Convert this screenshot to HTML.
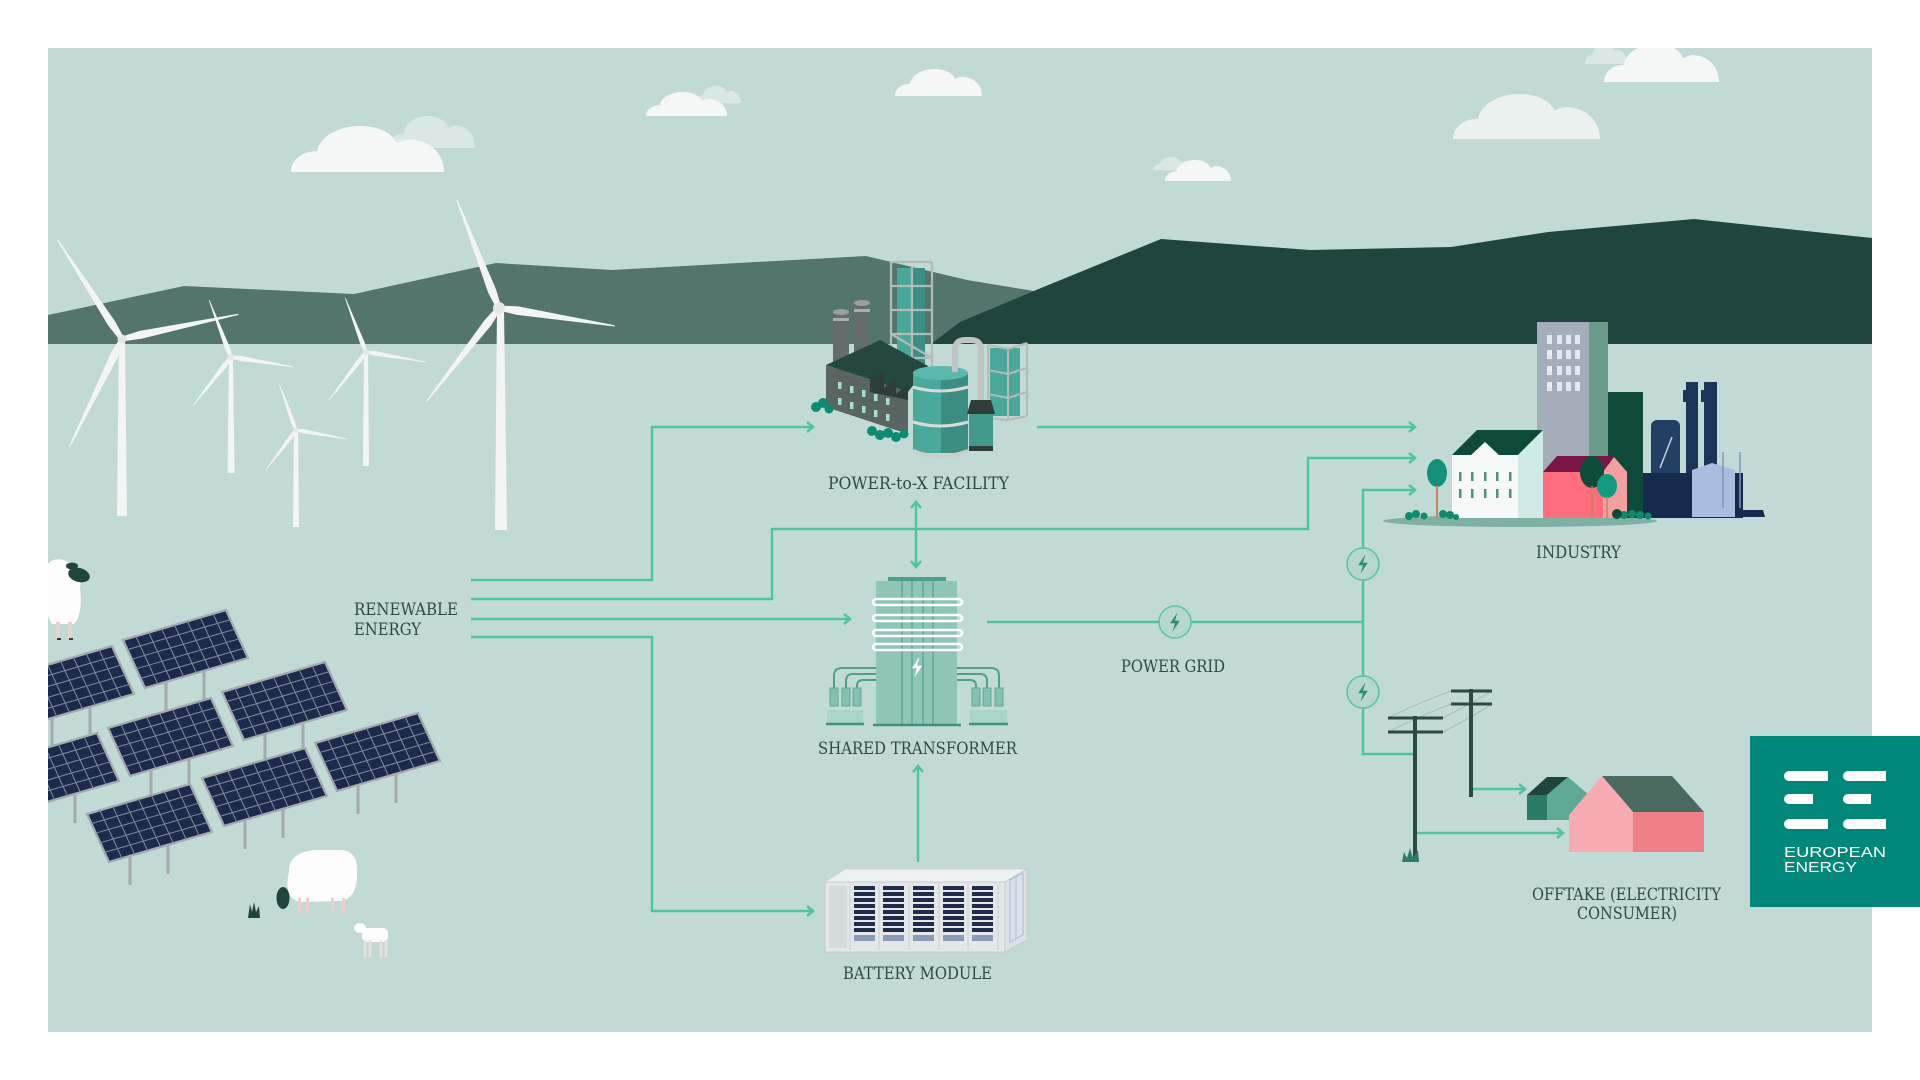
<!DOCTYPE html>
<html><head><meta charset="utf-8"><style>
html,body{margin:0;padding:0;background:#fff;width:1920px;height:1080px;overflow:hidden}
svg{display:block}
.lbl{font-family:"DejaVu Serif Condensed","DejaVu Serif","Liberation Serif",serif;font-size:17px;fill:#2e4a44}
.cn{fill:none;stroke:#4fc3a2;stroke-width:2.5}
</style></head><body>
<svg width="1920" height="1080" viewBox="0 0 1920 1080" xmlns="http://www.w3.org/2000/svg">
<defs>
<clipPath id="pc"><rect x="48" y="48" width="1824" height="984"/></clipPath>
<path id="cl" d="M0,40 C0,30 7,22 17,22 C19,9 31,0 45,0 C58,0 67,7 69,15 C74,11 80,11 84,13 C93,16 100,26 100,40 Z"/>
<path id="bl" d="M-2.5,0 L-4.5,-16 L-0.6,-100 L0.6,-100 L4,-16 L2.5,0 Z"/>
<g id="pv">
<rect x="0" y="0" width="100" height="50" fill="#1c2a4c" stroke="#a6abb0" stroke-width="2.2"/>
<path d="M12.5,0V50M25,0V50M37.5,0V50M50,0V50M62.5,0V50M75,0V50M87.5,0V50M0,10H100M0,20H100M0,30H100M0,40H100" stroke="#7f8a98" stroke-width="1"/>
</g>
<path id="bolt" d="M2,-8 L-4,1 L0,1 L-2,8 L4,-1 L0,-1 Z"/>
</defs>

<rect x="48" y="48" width="1824" height="984" fill="#c2dad5"/>

<g clip-path="url(#pc)">
<!-- clouds -->
<g fill="#d9e8e4">
<use href="#cl" transform="translate(389,116) scale(0.86,0.8)"/>
<use href="#cl" transform="translate(695,86) scale(0.46,0.43)"/>
<use href="#cl" transform="translate(1153,157) scale(0.4,0.33)"/>
<use href="#cl" transform="translate(1585,44) scale(0.42,0.5)"/>
</g>
<g fill="#f4f7f6">
<use href="#cl" transform="translate(291,126) scale(1.53,1.15)"/>
<use href="#cl" transform="translate(646,92) scale(0.81,0.6)"/>
<use href="#cl" transform="translate(895,69) scale(0.87,0.675)"/>
<use href="#cl" transform="translate(1165,160) scale(0.66,0.525)"/>
<use href="#cl" transform="translate(1453,94) scale(1.47,1.125)" fill="#eaf1ee"/>
<use href="#cl" transform="translate(1604,44) scale(1.15,0.95)"/>
</g>

<!-- mountains -->
<path d="M48,315 L184,286 L354,294 L496,263 L612,270 L866,256 L967,280 L1040,292 L1040,344 L48,344 Z" fill="#54756d"/>
<path d="M931,344 L960,322 L1041,288 L1161,239 L1310,250 L1451,247 L1548,232 L1694,219 L1872,238 L1872,344 Z" fill="#1f453e"/>

<!-- windmills -->
<g fill="#f2f5f4">
<polygon points="119,339 125,339 127,516 117,516"/>
<polygon points="229,357 233,357 234.5,473 227.5,473"/>
<polygon points="294,430 298,430 299,527 293,527"/>
<polygon points="364,352 368,352 369,466 363,466"/>
<polygon points="497,308 504,308 507,530 495,530"/>
<use href="#bl" transform="translate(122,339) rotate(-33) scale(0.95,1.18)"/>
<use href="#bl" transform="translate(122,339) rotate(78) scale(0.95,1.19)"/>
<use href="#bl" transform="translate(122,339) rotate(206) scale(0.95,1.2)"/>
<use href="#bl" transform="translate(231,357) rotate(-21) scale(0.6,0.61)"/>
<use href="#bl" transform="translate(231,357) rotate(99) scale(0.6,0.63)"/>
<use href="#bl" transform="translate(231,357) rotate(218) scale(0.6,0.62)"/>
<use href="#bl" transform="translate(296,430) rotate(-20) scale(0.5,0.49)"/>
<use href="#bl" transform="translate(296,430) rotate(100) scale(0.5,0.52)"/>
<use href="#bl" transform="translate(296,430) rotate(217) scale(0.5,0.51)"/>
<use href="#bl" transform="translate(366,352) rotate(-21) scale(0.55,0.58)"/>
<use href="#bl" transform="translate(366,352) rotate(99.5) scale(0.55,0.61)"/>
<use href="#bl" transform="translate(366,352) rotate(217.6) scale(0.55,0.61)"/>
<use href="#bl" transform="translate(499,308) rotate(-21.3) scale(1,1.16)"/>
<use href="#bl" transform="translate(499,308) rotate(98.8) scale(1,1.17)"/>
<use href="#bl" transform="translate(499,308) rotate(217.8) scale(1,1.18)"/>
</g>
<g fill="#e4e9e8">
<circle cx="122" cy="339" r="4.5"/><circle cx="231" cy="357" r="3"/><circle cx="296" cy="430" r="2.5"/><circle cx="366" cy="352" r="3"/><circle cx="499" cy="308" r="6"/>
</g>

<!-- top-left sheep -->
<path d="M44,572 C46,560 58,556 68,562 C80,562 82,574 80,588 C82,606 80,618 74,624 L52,624 C46,616 43,596 44,572 Z" fill="#fdfdfd"/>
<ellipse cx="79" cy="575" rx="11" ry="7" fill="#1f453e" transform="rotate(15 79 575)"/>
<ellipse cx="72" cy="566" rx="6" ry="3.5" fill="#1f453e"/>
<rect x="56" y="622" width="4" height="17" fill="#ecd0d0"/><rect x="68" y="622" width="4" height="17" fill="#ecd0d0"/>
<rect x="57" y="638" width="4" height="2" fill="#1f453e"/><rect x="69" y="638" width="4" height="2" fill="#1f453e"/>

<!-- solar legs + panels -->
<g stroke="#a3a9ac" stroke-width="3">
<path d="M166,680V711M204,670V700"/>
<path d="M52,716V747M90,706V736"/>
<path d="M265,732V763M303,722V752"/>
<path d="M151,768V799M189,758V788"/>
<path d="M37,803V834M75,793V823"/>
<path d="M358,783V814M396,773V803"/>
<path d="M245,818V849M283,808V838"/>
<path d="M130,854V885M168,844V874"/>
</g>
<use href="#pv" transform="matrix(1.03,-0.30,0.44,0.96,123,640)"/>
<use href="#pv" transform="matrix(1.03,-0.30,0.44,0.96,9,676)"/>
<use href="#pv" transform="matrix(1.03,-0.30,0.44,0.96,222,692)"/>
<use href="#pv" transform="matrix(1.03,-0.30,0.44,0.96,108,728)"/>
<use href="#pv" transform="matrix(1.03,-0.30,0.44,0.96,-6,763)"/>
<use href="#pv" transform="matrix(1.03,-0.30,0.44,0.96,315,743)"/>
<use href="#pv" transform="matrix(1.03,-0.30,0.44,0.96,202,778)"/>
<use href="#pv" transform="matrix(1.03,-0.30,0.44,0.96,87,814)"/>

<!-- bottom sheep -->
<path d="M289,872 C288,856 303,850 318,850 L340,850 C353,850 358,860 357,872 C358,890 351,900 340,901 L300,902 C289,900 285,888 289,872 Z" fill="#fdfdfd"/>
<rect x="298" y="898" width="3" height="15" fill="#ecd0d0"/><rect x="306" y="898" width="3" height="15" fill="#ecd0d0"/>
<rect x="331" y="898" width="3" height="15" fill="#ecd0d0"/><rect x="342" y="898" width="3" height="15" fill="#ecd0d0"/>
<ellipse cx="283" cy="898" rx="6.5" ry="11" fill="#1f453e"/>
<path d="M248,918 L250,904 L252,912 L254,902 L256,912 L259,906 L260,918 Z" fill="#1f453e"/>
<ellipse cx="360" cy="928" rx="6" ry="5" fill="#fdfdfd"/>
<rect x="362" y="928" width="26" height="14" rx="5" fill="#fdfdfd"/>
<path d="M365,940V957M370,940V957M381,940V957M386,940V957" stroke="#f0dede" stroke-width="2.5"/>

<!-- connectors -->
<path class="cn" d="M471,580 H652 V427 H813"/>
<path class="cn" d="M471,599 H772 V529 H1308 V458 H1415"/>
<path class="cn" d="M471,619 H850"/>
<path class="cn" d="M471,637 H652 V911 H813"/>
<path class="cn" d="M1037,427 H1415"/>
<path class="cn" d="M916,502 V567"/>
<path class="cn" d="M918,862 V766"/>
<path class="cn" d="M987,622 H1363"/>
<path class="cn" d="M1415,490 H1363 V754 H1413"/>
<path class="cn" d="M1471,789 H1525"/>
<path class="cn" d="M1415,833 H1563"/>
<g class="cn">
<polyline points="807,422 813,427 807,432"/>
<polyline points="1409,453 1415,458 1409,463"/>
<polyline points="844,614 850,619 844,624"/>
<polyline points="807,906 813,911 807,916"/>
<polyline points="1409,422 1415,427 1409,432"/>
<polyline points="1409,485 1415,490 1409,495"/>
<polyline points="1519,784 1525,789 1519,794"/>
<polyline points="1557,828 1563,833 1557,838"/>
<polyline points="911,508 916,502 921,508"/>
<polyline points="911,561 916,567 921,561"/>
<polyline points="913,772 918,766 923,772"/>
</g>
<g>
<circle cx="1175" cy="622" r="16" fill="#b6d6ce" stroke="#5cc4a6" stroke-width="1.5"/>
<circle cx="1363" cy="564" r="16" fill="#b6d6ce" stroke="#5cc4a6" stroke-width="1.5"/>
<circle cx="1363" cy="692" r="16" fill="#b6d6ce" stroke="#5cc4a6" stroke-width="1.5"/>
<use href="#bolt" transform="translate(1175,622) scale(1.2)" fill="#2b8c78"/>
<use href="#bolt" transform="translate(1363,564) scale(1.2)" fill="#2b8c78"/>
<use href="#bolt" transform="translate(1363,692) scale(1.2)" fill="#2b8c78"/>
</g>

<!-- Power-to-X facility -->
<g>
<rect x="833" y="312" width="16" height="62" fill="#646d6b"/><ellipse cx="841" cy="312" rx="8" ry="3" fill="#9aa09f"/>
<rect x="833" y="318" width="16" height="3" fill="#a9afae"/>
<rect x="854" y="303" width="16" height="62" fill="#646d6b"/><ellipse cx="862" cy="303" rx="8" ry="3" fill="#9aa09f"/>
<rect x="854" y="309" width="16" height="3" fill="#a9afae"/>
<rect x="897" y="268" width="28" height="98" fill="#4aa89a"/>
<rect x="911" y="268" width="14" height="98" fill="#3b8e83"/>
<g stroke="#b4b9b9" stroke-width="2.2" fill="none">
<path d="M891,262V370M912,266V372M932,262V368M891,262H932M891,286H932M891,310H932M891,334H932M891,358H932M891,334L932,358"/>
</g>
<polygon points="826,365 880,340 928,366 908,392" fill="#24483f"/>
<polygon points="826,365 908,392 908,434 826,407" fill="#5a6461"/>
<polygon points="870,380 884,370 884,388 896,378 896,394 908,384 908,400 870,392" fill="#2f3d3a"/>
<g fill="#a7dcd2">
<rect x="838" y="382" width="3.5" height="7"/><rect x="850" y="386" width="3.5" height="7"/><rect x="862" y="390" width="3.5" height="7"/><rect x="874" y="394" width="3.5" height="7"/><rect x="886" y="398" width="3.5" height="7"/>
<rect x="838" y="398" width="3.5" height="7"/><rect x="850" y="402" width="3.5" height="7"/><rect x="862" y="406" width="3.5" height="7"/><rect x="874" y="410" width="3.5" height="7"/><rect x="886" y="414" width="3.5" height="7"/>
</g>
<rect x="990" y="348" width="30" height="68" fill="#4aa89a"/>
<g stroke="#b4b9b9" stroke-width="2" fill="none">
<path d="M988,345V418M1008,349V420M1027,343V416M988,345L1008,349L1027,343M988,370L1008,374L1027,368M988,394L1008,398L1027,392M988,418L1008,420L1027,416"/>
</g>
<rect x="913" y="373" width="55" height="80" fill="#4ba99b"/>
<rect x="941" y="373" width="27" height="80" fill="#3c8d82"/>
<ellipse cx="940.5" cy="373" rx="27.5" ry="7" fill="#5cb8aa"/>
<path d="M913,387 Q940,395 968,387 M913,422 Q940,430 968,422" stroke="#d6dcdb" stroke-width="3" fill="none"/>
<path d="M913,451 Q940,462 968,451" stroke="#c9cfce" stroke-width="4" fill="none"/>
<path d="M955,372 V350 Q955,340 965,340 H971 Q981,340 981,350 V400" stroke="#bfc4c4" stroke-width="6" fill="none"/>
<polygon points="971,400 991,400 995,414 967,414" fill="#2e3d3a"/>
<rect x="969" y="414" width="24" height="36" fill="#3f9a8c"/>
<rect x="969" y="446" width="24" height="5" fill="#2e3d3a"/>
<g fill="#0f8a72">
<circle cx="816" cy="407" r="5"/><circle cx="823" cy="403" r="5"/><circle cx="829" cy="409" r="4.5"/>
<circle cx="872" cy="431" r="5"/><circle cx="880" cy="435" r="5"/><circle cx="888" cy="433" r="5"/><circle cx="896" cy="437" r="5"/><circle cx="904" cy="434" r="4.5"/>
</g>
</g>

<!-- Transformer -->
<g>
<rect x="888" y="577" width="58" height="4" fill="#4a9e8a"/>
<rect x="876" y="581" width="81" height="144" fill="#8fc5b6"/>
<path d="M902,581V725M912,581V725M923,581V725M933,581V725" stroke="#5ea896" stroke-width="1.5"/>
<g fill="none" stroke="#ffffff" stroke-width="2.4">
<rect x="873" y="599" width="89" height="6" rx="3"/>
<rect x="873" y="615" width="89" height="6" rx="3"/>
<rect x="873" y="630" width="89" height="6" rx="3"/>
<rect x="873" y="644" width="89" height="6" rx="3"/>
</g>
<use href="#bolt" transform="translate(917,667) scale(1.3)" fill="#ffffff"/>
<g fill="none" stroke="#4f9f8b" stroke-width="2">
<path d="M876,668 H842 Q834,668 834,676 V688"/>
<path d="M876,674 H853 Q846,674 846,681 V688"/>
<path d="M876,680 H863 Q857,680 857,686 V688"/>
<path d="M957,668 H991 Q999,668 999,676 V688"/>
<path d="M957,674 H980 Q987,674 987,681 V688"/>
<path d="M957,680 H970 Q976,680 976,686 V688"/>
</g>
<g fill="#86c0b0" stroke="#5ea896" stroke-width="1">
<rect x="830" y="688" width="8" height="18"/><rect x="842" y="688" width="8" height="18"/><rect x="853" y="688" width="8" height="18"/>
<rect x="972" y="688" width="8" height="18"/><rect x="983" y="688" width="8" height="18"/><rect x="995" y="688" width="8" height="18"/>
</g>
<rect x="827" y="710" width="36" height="13" fill="#a9d5c9"/>
<rect x="970" y="710" width="37" height="13" fill="#a9d5c9"/>
<path d="M826,724H864M969,724H1008M873,725H961" stroke="#3e927f" stroke-width="2.5"/>
</g>

<!-- Battery -->
<g>
<polygon points="825,882 845,869 1027,869 1005,882" fill="#eef1f2" stroke="#cdd3d6" stroke-width="1"/>
<rect x="825" y="882" width="180" height="70" fill="#e3e7e9" stroke="#c4cacd" stroke-width="1"/>
<polygon points="1005,882 1027,869 1027,940 1005,952" fill="#dce2e5" stroke="#c4cacd" stroke-width="1"/>
<path d="M1010,880 L1023,873 V935 L1010,942 Z M1016,877 V939" fill="none" stroke="#a9bfe0" stroke-width="1"/>
<rect x="829" y="886" width="18" height="62" fill="#d4d9dc"/>
<g fill="#1f2d4a">
<rect x="854" y="886" width="21" height="4"/><rect x="854" y="892" width="21" height="4"/><rect x="854" y="898" width="21" height="4"/><rect x="854" y="904" width="21" height="4"/><rect x="854" y="910" width="21" height="4"/><rect x="854" y="916" width="21" height="4"/><rect x="854" y="922" width="21" height="4"/><rect x="854" y="928" width="21" height="4"/>
<rect x="883" y="886" width="21" height="4"/><rect x="883" y="892" width="21" height="4"/><rect x="883" y="898" width="21" height="4"/><rect x="883" y="904" width="21" height="4"/><rect x="883" y="910" width="21" height="4"/><rect x="883" y="916" width="21" height="4"/><rect x="883" y="922" width="21" height="4"/><rect x="883" y="928" width="21" height="4"/>
<rect x="913" y="886" width="21" height="4"/><rect x="913" y="892" width="21" height="4"/><rect x="913" y="898" width="21" height="4"/><rect x="913" y="904" width="21" height="4"/><rect x="913" y="910" width="21" height="4"/><rect x="913" y="916" width="21" height="4"/><rect x="913" y="922" width="21" height="4"/><rect x="913" y="928" width="21" height="4"/>
<rect x="943" y="886" width="21" height="4"/><rect x="943" y="892" width="21" height="4"/><rect x="943" y="898" width="21" height="4"/><rect x="943" y="904" width="21" height="4"/><rect x="943" y="910" width="21" height="4"/><rect x="943" y="916" width="21" height="4"/><rect x="943" y="922" width="21" height="4"/><rect x="943" y="928" width="21" height="4"/>
<rect x="972" y="886" width="21" height="4"/><rect x="972" y="892" width="21" height="4"/><rect x="972" y="898" width="21" height="4"/><rect x="972" y="904" width="21" height="4"/><rect x="972" y="910" width="21" height="4"/><rect x="972" y="916" width="21" height="4"/><rect x="972" y="922" width="21" height="4"/><rect x="972" y="928" width="21" height="4"/>
</g>
<g fill="#8d9cb6">
<rect x="854" y="935" width="21" height="6"/><rect x="883" y="935" width="21" height="6"/><rect x="913" y="935" width="21" height="6"/><rect x="943" y="935" width="21" height="6"/><rect x="972" y="935" width="21" height="6"/>
</g>
<path d="M850,884V950M879,884V950M909,884V950M939,884V950M968,884V950M998,884V950" stroke="#cdd3d6" stroke-width="1.2"/>
</g>

<!-- Industry -->
<g>
<ellipse cx="1520" cy="521" rx="137" ry="6" fill="#7eb1a3"/>
<rect x="1537" y="322" width="52" height="196" fill="#a4aeba"/>
<rect x="1589" y="322" width="19" height="196" fill="#6b9c8b"/>
<g fill="#e1eaf0">
<rect x="1547" y="335" width="5" height="9"/><rect x="1557" y="335" width="5" height="9"/><rect x="1566" y="335" width="5" height="9"/><rect x="1575" y="335" width="5" height="9"/>
<rect x="1547" y="350" width="5" height="9"/><rect x="1557" y="350" width="5" height="9"/><rect x="1566" y="350" width="5" height="9"/><rect x="1575" y="350" width="5" height="9"/>
<rect x="1547" y="366" width="5" height="9"/><rect x="1557" y="366" width="5" height="9"/><rect x="1566" y="366" width="5" height="9"/><rect x="1575" y="366" width="5" height="9"/>
<rect x="1547" y="382" width="5" height="9"/><rect x="1557" y="382" width="5" height="9"/><rect x="1566" y="382" width="5" height="9"/><rect x="1575" y="382" width="5" height="9"/>
</g>
<rect x="1608" y="392" width="35" height="126" fill="#0e4a3a"/>
<rect x="1651" y="420" width="29" height="60" rx="6" fill="#243f66"/>
<rect x="1686" y="382" width="12" height="96" fill="#1b3356"/>
<rect x="1704" y="382" width="13" height="96" fill="#1b3356"/>
<rect x="1683" y="390" width="4" height="12" fill="#1b3356"/><rect x="1701" y="390" width="4" height="12" fill="#1b3356"/>
<rect x="1643" y="473" width="100" height="45" fill="#152a4c"/>
<polygon points="1735,510 1763,510 1765,517 1735,517" fill="#152a4c"/>
<polygon points="1692,517 1692,470 1712,463 1735,470 1735,517" fill="#a9bde0"/>
<path d="M1723,452V508M1740,452V508" stroke="#7f97c6" stroke-width="1.5"/>
<path d="M1672,437L1660,468" stroke="#c3cfe6" stroke-width="1.5"/>
<polygon points="1452,455 1477,430 1543,430 1518,455" fill="#0e4a3a"/>
<polygon points="1518,455 1543,430 1543,518 1518,518" fill="#cfeae7"/>
<rect x="1452" y="455" width="66" height="63" fill="#f7f8f8"/>
<polygon points="1470,456 1485,442 1500,456" fill="#f7f8f8"/>
<g fill="#4f8f7f">
<rect x="1459" y="472" width="2.5" height="9"/><rect x="1471" y="472" width="2.5" height="9"/><rect x="1484" y="472" width="2.5" height="9"/><rect x="1496" y="472" width="2.5" height="9"/><rect x="1509" y="472" width="2.5" height="9"/>
<rect x="1459" y="489" width="2.5" height="9"/><rect x="1471" y="489" width="2.5" height="9"/><rect x="1484" y="489" width="2.5" height="9"/><rect x="1496" y="489" width="2.5" height="9"/><rect x="1509" y="489" width="2.5" height="9"/>
</g>
<polygon points="1543,472 1557,456 1614,456 1603,472" fill="#7b1545"/>
<rect x="1543" y="472" width="61" height="46" fill="#ff6e7c"/>
<polygon points="1603,472 1614,457 1627,472 1627,518 1603,518" fill="#f5a0a0"/>
<ellipse cx="1592" cy="472" rx="12" ry="16" fill="#0e4a3a"/>
<path d="M1592,486V518" stroke="#c8845a" stroke-width="1.5"/>
<ellipse cx="1607" cy="486" rx="10" ry="12" fill="#139a80"/>
<path d="M1607,497V518" stroke="#c8845a" stroke-width="1.5"/>
<ellipse cx="1437" cy="473" rx="10" ry="14" fill="#12907a"/>
<path d="M1437,486V518" stroke="#c8845a" stroke-width="2"/>
<g fill="#0f8a6c">
<circle cx="1409" cy="516" r="4"/><circle cx="1416" cy="514" r="4"/><circle cx="1424" cy="516" r="3.5"/><circle cx="1443" cy="514" r="4"/><circle cx="1450" cy="515" r="4"/><circle cx="1456" cy="517" r="3"/>
<circle cx="1624" cy="515" r="4"/><circle cx="1632" cy="514" r="4"/><circle cx="1640" cy="515" r="4"/><circle cx="1648" cy="516" r="3.5"/>
</g>
<circle cx="1617" cy="514" r="5" fill="#0e4a3a"/>
</g>

<!-- power poles -->
<g fill="none" stroke="#9fb4ae" stroke-width="0.8">
<path d="M1388,718 Q1420,702 1451,691"/><path d="M1443,718 Q1470,704 1492,691"/>
<path d="M1388,732 Q1420,716 1451,704"/><path d="M1443,732 Q1470,718 1492,704"/>
</g>
<g stroke="#2b4a44">
<path d="M1415,716V862" stroke-width="4"/>
<path d="M1388,718H1443M1388,732H1443" stroke-width="3"/>
<path d="M1471,689V797" stroke-width="4"/>
<path d="M1451,691H1492M1451,704H1492" stroke-width="3"/>
</g>
<path d="M1402,862 L1404,852 L1407,858 L1410,848 L1413,858 L1418,850 L1419,862 Z" fill="#2b7a6a"/>

<!-- Offtake houses -->
<g>
<polygon points="1527,795 1547,777 1568,777 1547,795" fill="#1f453e"/>
<rect x="1527" y="795" width="20" height="25" fill="#2a7a68"/>
<polygon points="1547,795 1568,777 1589,795 1589,820 1547,820" fill="#5fa896"/>
<polygon points="1602,776 1672,776 1704,812 1633,812" fill="#4a6a60"/>
<polygon points="1633,812 1704,812 1704,852 1633,852" fill="#f08088"/>
<polygon points="1569,815 1602,776 1633,812 1633,852 1569,852" fill="#f6abb1"/>
</g>
</g>

<!-- logo -->
<rect x="1750" y="736" width="170" height="171" fill="#01877a"/>
<g fill="#ffffff">
<path d="M1789,771H1828V781H1789A5,5 0 0 1 1789,771Z"/>
<path d="M1789,794H1813V804H1789A5,5 0 0 1 1789,794Z"/>
<path d="M1789,819H1828V829H1789A5,5 0 0 1 1789,819Z"/>
<path d="M1848,771H1886V781H1848A5,5 0 0 1 1848,771Z"/>
<path d="M1848,794H1871V804H1848A5,5 0 0 1 1848,794Z"/>
<path d="M1848,819H1886V829H1848A5,5 0 0 1 1848,819Z"/>
</g>
<g font-family="Liberation Sans, DejaVu Sans, sans-serif" font-size="15" fill="#ffffff">
<text x="1784" y="857" textLength="102" lengthAdjust="spacingAndGlyphs">EUROPEAN</text>
<text x="1784" y="872" textLength="73" lengthAdjust="spacingAndGlyphs">ENERGY</text>
</g>

<!-- labels -->
<text class="lbl" x="828" y="489" textLength="181" lengthAdjust="spacingAndGlyphs">POWER-to-X FACILITY</text>
<text class="lbl" x="354" y="615" textLength="104" lengthAdjust="spacingAndGlyphs">RENEWABLE</text>
<text class="lbl" x="354" y="635" textLength="67" lengthAdjust="spacingAndGlyphs">ENERGY</text>
<text class="lbl" x="818" y="754" textLength="199" lengthAdjust="spacingAndGlyphs">SHARED TRANSFORMER</text>
<text class="lbl" x="843" y="979" textLength="149" lengthAdjust="spacingAndGlyphs">BATTERY MODULE</text>
<text class="lbl" x="1121" y="672" textLength="104" lengthAdjust="spacingAndGlyphs">POWER GRID</text>
<text class="lbl" x="1536" y="558" textLength="85" lengthAdjust="spacingAndGlyphs">INDUSTRY</text>
<text class="lbl" x="1532" y="900" textLength="189" lengthAdjust="spacingAndGlyphs">OFFTAKE (ELECTRICITY</text>
<text class="lbl" x="1577" y="919" textLength="100" lengthAdjust="spacingAndGlyphs">CONSUMER)</text>
</svg>
</body></html>
